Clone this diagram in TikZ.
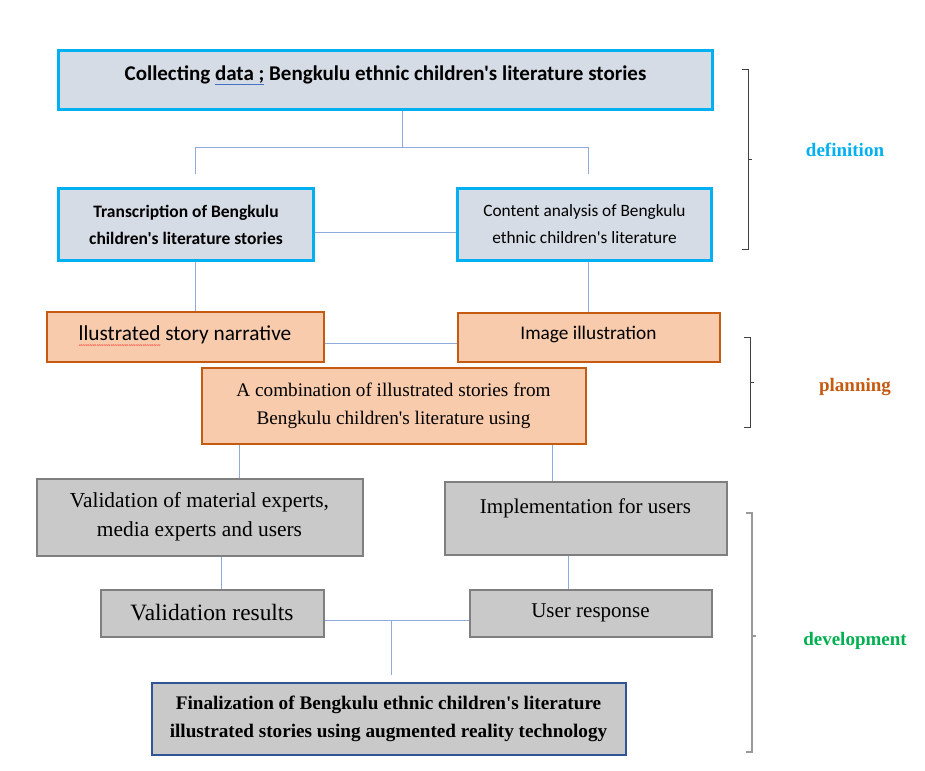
\documentclass[tikz,border=0pt]{standalone}
\usepackage{fontspec}
\setmainfont{Liberation Serif}[Ligatures=TeXOff]
\newfontfamily\calibri{Carlito}

\definecolor{defcyan}{HTML}{00B0F0}
\definecolor{defgray}{HTML}{D6DCE5}
\definecolor{planorange}{HTML}{C55A11}
\definecolor{planfill}{HTML}{F8CBAD}
\definecolor{devborder}{HTML}{7F7F7F}
\definecolor{devgray}{HTML}{C9C9C9}
\definecolor{finblue}{HTML}{2F5597}
\definecolor{linkblue}{HTML}{8FAADC}
\definecolor{devgreen}{HTML}{00B050}
\definecolor{gramblue}{HTML}{4472C4}

% word-processor marks under some words
\newsavebox\markbox
\newcommand\grammarline[1]{\sbox\markbox{#1}\rlap{\textcolor{gramblue}{\rule[-4pt]{\wd\markbox}{0.8pt}}}\usebox\markbox}
\newcommand\spellwave[1]{\sbox\markbox{#1}\rlap{\lower7pt\hbox to \wd\markbox{\color{red}\fontsize{7}{7}\selectfont\xleaders\hbox{\textasciitilde}\hfill}}\usebox\markbox}

\tikzset{
  box/.style={draw, inner sep=0pt, align=center},
  defbox/.style={box, draw=defcyan, fill=defgray, line width=2.5pt},
  planbox/.style={box, draw=planorange, fill=planfill, line width=2pt},
  devbox/.style={box, draw=devborder, fill=devgray, line width=2pt},
  finbox/.style={devbox, draw=finblue},
  link/.style={draw=linkblue, line width=0.8pt},
  phasebrace/.style={draw=black!75, line width=0.8pt},
  phaselabel/.style={font=\bfseries\fontsize{19}{22}\selectfont},
}

\begin{document}
\begin{tikzpicture}[x=1pt,y=-1pt]
  \useasboundingbox (0,0) rectangle (925,770);

  % definition
  \begin{scope}[every node/.style={defbox}]
    \node[minimum width=654pt, minimum height=59pt, text height=14pt, text depth=12pt,
          font=\calibri\bfseries\fontsize{21}{24}\selectfont] (top) at (385.5,80)
         {Collecting \grammarline{data ;} Bengkulu ethnic children's literature stories};
    \node[minimum width=255pt, minimum height=72pt,
          font=\calibri\bfseries\fontsize{17.5}{27}\selectfont] (trans) at (186,224.5)
         {Transcription of Bengkulu\\children's literature stories};
    \node[minimum width=254pt, minimum height=72pt,
          font=\calibri\fontsize{17.3}{27}\selectfont] (cont) at (584.5,224.5)
         {Content analysis of Bengkulu\\ethnic children's literature};
  \end{scope}

  % planning
  \begin{scope}[every node/.style={planbox}]
    \node[minimum width=277pt, minimum height=50pt,
          font=\calibri\fontsize{21.3}{24}\selectfont] (narr) at (185,336.5)
         {\spellwave{llustrated} story narrative};
    \node[minimum width=262pt, minimum height=49pt, text height=13pt, text depth=8pt,
          font=\calibri\fontsize{19.3}{22}\selectfont] (img) at (588.5,337)
         {Image illustration};
    \node[minimum width=384pt, minimum height=76pt,
          font=\fontsize{19.2}{28}\selectfont] (comb) at (393.5,405.5)
         {A combination of illustrated stories from\\Bengkulu children's literature using};
  \end{scope}

  % development
  \begin{scope}[every node/.style={devbox}]
    \node[minimum width=326pt, minimum height=77pt,
          font=\fontsize{21.4}{29}\selectfont] (valm) at (199.5,517)
         {Validation of material experts,\\media experts and users};
    \node[minimum width=282pt, minimum height=73pt, text height=15pt, text depth=24pt,
          font=\fontsize{21}{24}\selectfont] (impl) at (585.5,518)
         {Implementation for users};
    \node[minimum width=223pt, minimum height=47pt,
          font=\fontsize{23.4}{26}\selectfont] (valr) at (212,613)
         {Validation results};
    \node[minimum width=242pt, minimum height=47pt,
          font=\fontsize{21}{26}\selectfont] (resp) at (590.5,613)
         {User response};
    \node[finbox, minimum width=474pt, minimum height=72pt,
          font=\bfseries\fontsize{19.2}{28}\selectfont] (fin) at (388.5,718.5)
         {Finalization of Bengkulu ethnic children's literature\\illustrated stories using augmented reality technology};
  \end{scope}

  % connectors
  \coordinate (j1) at (402,147);
  \coordinate (e1) at (195,174);
  \coordinate (e2) at (588,174);
  \coordinate (h1) at (0,232);
  \coordinate (h2) at (0,343);
  \coordinate (v1) at (239,0);
  \coordinate (v2) at (552,0);
  \coordinate (v3) at (221,0);
  \coordinate (v4) at (568,0);
  \coordinate (h3) at (0,620);
  \coordinate (e3) at (391,675);

  \draw[link] (top.south -| j1) -- (j1);
  \draw[link] (e1 |- j1) -- (e2 |- j1);
  \draw[link] (e1 |- j1) -- (e1);
  \draw[link] (e2 |- j1) -- (e2);
  \draw[link] (trans.east |- h1) -- (cont.west |- h1);
  \draw[link] (trans.south -| e1) -- (narr.north -| e1);
  \draw[link] (cont.south -| e2) -- (img.north -| e2);
  \draw[link] (narr.east |- h2) -- (img.west |- h2);
  \draw[link] (comb.south -| v1) -- (valm.north -| v1);
  \draw[link] (comb.south -| v2) -- (impl.north -| v2);
  \draw[link] (valm.south -| v3) -- (valr.north -| v3);
  \draw[link] (impl.south -| v4) -- (resp.north -| v4);
  \draw[link] (valr.east |- h3) -- (resp.west |- h3);
  \draw[link] (e3 |- h3) -- (e3);

  % phase brackets
  \draw[phasebrace] (742,69) -- (748,69) -- (748,249) -- (742,249);
  \draw[phasebrace] (748,159) -- (752,159);
  \draw[phasebrace] (744,337) -- (750,337) -- (750,427) -- (744,427);
  \draw[phasebrace] (750,382) -- (754,382);
  \draw[phasebrace, draw=black!40, line width=1.4pt] (746,513) -- (752,513) -- (752,752) -- (746,752);
  \draw[phasebrace, draw=black!40, line width=1.4pt] (752,636) -- (756,636);

  \node[phaselabel, text=defcyan] (deflbl) at (845,150) {definition};
  \node[phaselabel, text=planorange] (planlbl) at (855,387) {planning};
  \node[phaselabel, text=devgreen] (devlbl) at (855,641) {development};

\end{tikzpicture}
\end{document}
